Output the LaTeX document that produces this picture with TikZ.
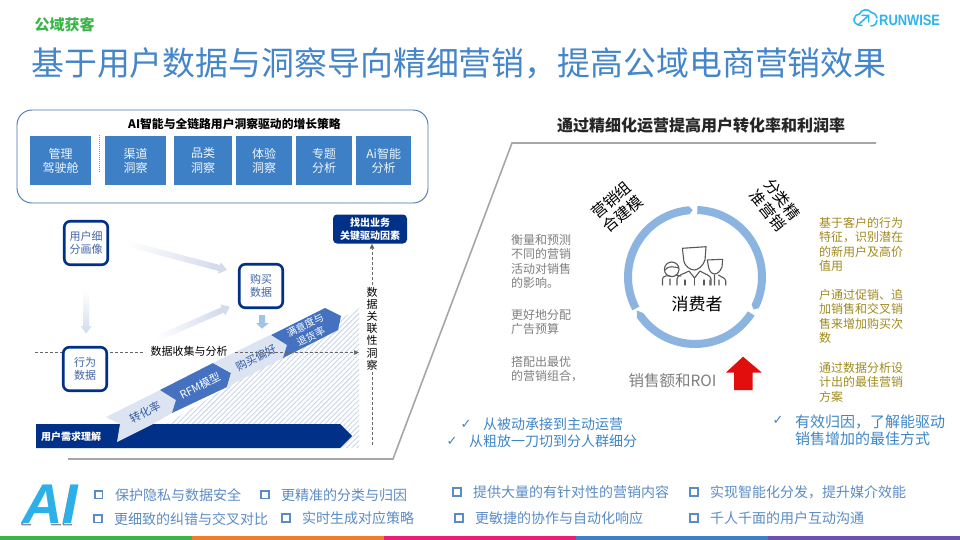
\documentclass[tikz,border=0pt]{standalone}
\usepackage{fontspec}
\setmainfont{Noto Sans CJK SC}
\newfontfamily\arialfont{Liberation Sans}
\newfontfamily\symfont{DejaVu Sans}
\usetikzlibrary{patterns.meta,arrows.meta,shadings}
\definecolor{navy}{HTML}{003087}
\definecolor{boxblue}{HTML}{3E80C6}
\definecolor{titleblue}{HTML}{4585C9}
\definecolor{ringblue}{HTML}{8CB4E0}
\definecolor{bandlight}{HTML}{DCE4F1}
\definecolor{banddark}{HTML}{4472C0}
\definecolor{greytext}{HTML}{7F7F7F}
\definecolor{goldtext}{HTML}{A08B1E}
\definecolor{listblue}{HTML}{5B8CC4}
\definecolor{checkblue}{HTML}{3F86C6}
\definecolor{fadeblue}{HTML}{D3DBEC}
\definecolor{hatchblue}{HTML}{CBD5E8}
\definecolor{logoblue}{HTML}{2DB4EA}
\definecolor{aiblue}{HTML}{2BB0EA}
\definecolor{kickgreen}{HTML}{3BB54A}
\definecolor{barorange}{HTML}{F07D2A}
\definecolor{barpink}{HTML}{E91E75}
\definecolor{barpurple}{HTML}{6E50B2}
\newcommand{\fs}[2]{\fontsize{#1}{#2}\selectfont}
\tikzset{
  x=1pt,y=-1pt,
  panelbox/.style={fill=boxblue,text=white!92!boxblue,align=center,font=\fs{12}{14.5},inner sep=0pt,anchor=north west,minimum height=49pt},
  navbox/.style={draw=navy,line width=2.6pt,fill=white,rounded corners=6pt,minimum width=43.5pt,minimum height=43.5pt,inner sep=0pt,align=center,text=navy!75!white,font=\fs{11}{13}},
  bandtext/.style={rotate=27,align=center,font=\fs{11}{13}},
  grey para/.style={anchor=north west,align=left,text=greytext,font=\fs{12}{14.4},inner sep=0pt},
  gold para/.style={anchor=north west,align=left,text=goldtext,font=\fs{12}{14.5},inner sep=0pt},
  list item/.style={anchor=west,text=listblue,font=\fs{14}{16},inner sep=0pt},
  bullet/.style={draw=listblue,line width=1.9pt,fill=white,minimum size=7.5pt,inner sep=0pt},
  check/.style={text=checkblue,font=\symfont\fs{13}{15},inner sep=0pt},
  checktext/.style={anchor=west,align=left,text=checkblue,inner sep=0pt},
  flowdash/.style={draw=black!60,dashed,dash pattern=on 3pt off 2pt,line width=.7pt},
  personline/.style={draw=black!65,line width=1.1pt,line join=round,line cap=round},
}
\begin{document}
\begin{tikzpicture}
\useasboundingbox (0,0) rectangle (960,540);
\fill[white] (0,0) rectangle (960,540);
% header
\node[anchor=center,font=\bfseries\fs{15}{18},text=kickgreen,inner sep=0pt] (kicker) at (64.5,25) {公域获客};
\node[anchor=west,text=titleblue,font=\fs{32.9}{38},inner sep=0pt] (title) at (31,63) {基于用户数据与洞察导向精细营销，提高公域电商营销效果};
% logo
\node[anchor=west,text=logoblue,inner sep=0pt,font=\arialfont\bfseries\fs{15}{16},xscale=.86] (logo) at (879,20.5) {RUNWISE};
\draw[draw=logoblue,line width=1.5pt,line cap=round]
  (862,25.5) .. controls (856,25.5) and (853.5,22) .. (854,19) .. controls (854.5,16) and (857,14) .. (859.5,14) .. controls (861,9.5) and (868,8) .. (871.5,12.5) .. controls (875,13) and (877,16) .. (877,18);
\draw[draw=logoblue,line width=1.5pt,line cap=round]
  (871,26) .. controls (875,26) and (877,23) .. (877,20.5) (859,24) -- (868,16) (862,15.5) -- (868.5,15.5) -- (868.5,22);
% top panel
\draw[draw=cyan!50!blue!80!black!90,line width=.9pt,rounded corners=15pt] (17,110) rectangle (428,203);
\node[font=\bfseries\fs{11.8}{14},inner sep=0pt] (panelhead) at (234.5,124) {AI智能与全链路用户洞察驱动的增长策略};
\node[panelbox,minimum width=61pt] (p1) at (30,136) {管理\\驾驶舱};
\node[panelbox,minimum width=61pt] (p2) at (105,136) {渠道\\洞察};
\node[panelbox,minimum width=58pt] (p3) at (174,136) {品类\\洞察};
\node[panelbox,minimum width=56pt] (p4) at (236,136) {体验\\洞察};
\node[panelbox,minimum width=56pt] (p5) at (296,136) {专题\\分析};
\node[panelbox,minimum width=55pt] (p6) at (356,136) {Ai智能\\分析};
\draw[draw=black!45,dash pattern=on 1pt off 1pt,line width=.6pt] (99.5,135) -- (99.5,173);
% grey frame
\coordinate (fa) at (68,459); \coordinate (fb) at (393,459); \coordinate (fc) at (512,143); \coordinate (fd) at (876,143);
\draw[draw=black!35,line width=1.6pt] (fa) -- (fb) -- (fc) -- (fd);
% hatch
\fill[pattern={Lines[angle=45,distance=3.6pt,line width=.9pt]},pattern color=hatchblue] (140,440) -- (359,308) -- (359,448) -- (140,448) -- cycle;
% faded arrows
\shade[left color=white,right color=fadeblue,shading angle=75]
  (116.2,243.9) -- (218.5,270.9) -- (217.8,273.8) -- (227,270) -- (220.8,262.2) -- (220.1,265.1) -- (117.8,238.1) -- cycle;
\shade[top color=white,bottom color=fadeblue]
  (83,290) -- (83,326) -- (80.7,326) -- (86,333.5) -- (91.7,326) -- (89,326) -- (89,290) -- cycle;
\shade[left color=white,right color=fadeblue,shading angle=117]
  (148.2,345.7) -- (223.9,312.6) -- (225.1,315.4) -- (230,306.7) -- (220.3,304.4) -- (221.5,307.2) -- (145.8,340.3) -- cycle;
\fill[fill=ringblue!80!white] (259,315) -- (265,315) -- (265,323) -- (269,323) -- (262,328.7) -- (256,323) -- (259,323) -- cycle;
% dashed axis, first part
\coordinate (dl1) at (35,352.5); \coordinate (dl2) at (145,352.5); \coordinate (dl3) at (235,352.5); \coordinate (dl4) at (359,352.5);
\draw[flowdash] (dl1) -- (dl2);
% nav nodes
\node[navbox] (persona) at (86,243) {用户细\\分画像};
\node[navbox] (behav) at (85,369) {行为\\数据};
\node[navbox] (buy) at (261,286) {购买\\数据};
% bottom bar
\fill[navy] (36,424) -- (340,424) -- (352,436) -- (340,448) -- (36,448) -- cycle;
\node[anchor=west,text=white,font=\bfseries\fs{10}{12},inner sep=0pt] (need) at (41,436.5) {用户需求理解};
% bands
\fill[bandlight] (106,417) -- (160,390) -- (176,400) -- (172,413) -- (153,424) -- (117,442) -- (120,424) -- cycle;
\fill[banddark] (160,390) -- (213,363) -- (231,373) -- (227,387) -- (172,413) -- (176,400) -- cycle;
\fill[bandlight] (213,363) -- (270,335) -- (287,345) -- (283,358) -- (227,387) -- (231,373) -- cycle;
\fill[banddark] (271,335) -- (325,308) -- (341,316) -- (338,330) -- (283,358) -- (287,345) -- cycle;
\node[bandtext,text=navy!80!white] (b1) at (145,412) {转化率};
\node[bandtext,text=white] (b2) at (200,386) {RFM模型};
\node[bandtext,text=navy!80!white] (b3) at (256,358) {购买偏好};
\node[bandtext,text=white,font=\fs{10}{12.5}] (b4) at (308,331) {满意度与\\退货率};
% dashed axis, rest
\node[font=\fs{11}{14},inner sep=0pt] (collect) at (189,351) {数据收集与分析};
\draw[flowdash,-{Triangle[length=5pt,width=4.5pt]}] (dl3) -- (dl4);
% key box + vertical
\node[fill=navy,rounded corners=4pt,text=white,align=center,font=\bfseries\fs{10}{13},minimum width=74pt,minimum height=29pt,inner sep=0pt] (key) at (370,229) {找出业务\\关键驱动因素};
\coordinate (vb) at (372,445);
\draw[flowdash,-{Triangle[length=5pt,width=4.5pt]}] (vb) -- (key.south -| vb);
\node[fill=white,inner ysep=1pt,inner xsep=1pt,align=center,font=\fs{11}{12.2}] (vtext) at (372,328.5) {数\\据\\关\\联\\性\\洞\\察};
% right title
\node[font=\bfseries\fs{16}{18},text=black!85,inner sep=0pt] (rtitle) at (701,125) {通过精细化运营提高用户转化率和利润率};
% ring
\begin{scope}[shift={(695,277)},x=1pt,y=1pt]
  \fill[ringblue] (88:71) arc[start angle=88,end angle=-26,radius=71pt] -- (-29:67) -- (-26:63) arc[start angle=-26,end angle=88,radius=63pt] -- cycle;
  \fill[ringblue] (-33:71) arc[start angle=-33,end angle=-145,radius=71pt] -- (-150:67) -- (-145:63) arc[start angle=-145,end angle=-33,radius=63pt] -- cycle;
  \fill[ringblue] (208:71) arc[start angle=208,end angle=95,radius=71pt] -- (92:67) -- (95:63) arc[start angle=95,end angle=208,radius=63pt] -- cycle;
\end{scope}
\node[rotate=40,align=center,font=\fs{15.5}{18},inner sep=0pt] (ringa) at (617,207) {营销组\\合建模};
\node[rotate=-52,align=center,font=\fs{15.5}{18},inner sep=0pt] (ringb) at (775,205) {分类精\\准营销};
% people
\draw[personline] (682.3,248.3) -- (706,246.7) -- (705,260) .. controls (703,266) and (698,270) .. (694.3,270) .. controls (690,270) and (685,266) .. (684,261.7) -- cycle;
\draw[personline] (677,285) -- (677,279) .. controls (677,275) and (684,274) .. (689,271) -- (694.5,278) -- (700,271) .. controls (704,274) and (711,275) .. (711,279) -- (711,285);
\draw[personline] (694.5,278) -- (694.5,285) (685,280) -- (685,285) (704,280) -- (704,285);
\draw[personline] (671.7,269.3) circle[radius=7.3];
\draw[personline] (665,270) .. controls (668,265) and (675,267) .. (678.5,268);
\draw[personline] (662.5,285) -- (662.5,279) .. controls (662.5,276) and (668,275) .. (670,276) (681,276) -- (676,275) (670,285) -- (670,279);
\draw[personline] (707.3,260) -- (722.7,259.3) -- (722,267) .. controls (720,272) and (717,274) .. (714.5,274) .. controls (712,274) and (709,271) .. (708.5,267) -- cycle;
\draw[personline] (710,285) -- (710,280) (714.5,275) -- (714.5,285) (725.7,285) -- (725.7,281) .. controls (725.7,278) and (721,277) .. (718.5,275) (719,280) -- (719,285);
\node[font=\fs{17}{20},inner sep=0pt] (consumer) at (697,304) {消费者};
\node[text=greytext,font=\fs{15.5}{18},inner sep=0pt] (roi) at (672.5,381) {销售额和ROI};
\fill[red!88!black!95!white] (743,356.7) -- (761.7,372.5) -- (752.7,372.5) -- (752.7,390) -- (734,390) -- (734,372.5) -- (726,372.5) -- cycle;
% left text
\node[grey para] (g1) at (511,234) {衡量和预测\\不同的营销\\活动对销售\\的影响。};
\node[grey para] (g2) at (511,309) {更好地分配\\广告预算};
\node[grey para] (g3) at (511,356) {搭配出最优\\的营销组合，};
% right text
\node[gold para] (y1) at (819,217) {基于客户的行为\\特征，识别潜在\\的新用户及高价\\值用};
\node[gold para] (y2) at (819,289) {户通过促销、追\\加销售和交叉销\\售来增加购买次\\数};
\node[gold para] (y3) at (819,362) {通过数据分析设\\计出的最佳营销\\方案};
% checks
\node[check] (c1) at (466,424) {✓};
\node[checktext,font=\fs{14}{16}] (c1t) at (483,424) {从被动承接到主动运营};
\node[check] (c2) at (452,441) {✓};
\node[checktext,font=\fs{14}{16}] (c2t) at (469,441.5) {从粗放一刀切到分人群细分};
\node[check] (c3) at (778,420) {✓};
\node[checktext,font=\fs{15}{17.4}] (c3t) at (795,430.5) {有效归因，了解能驱动\\销售增加的最佳方式};
% AI: grey edge behind the letters
\draw[draw=black!45,line width=1.5pt,line join=round]
  (21.5,524.5) -- (47,485) (21.5,524.5) -- (31,524.5) (51,524.5) -- (61,524.5) (63,524.5) -- (72,524.5) (63,524.5) -- (71,485);
\node[anchor=center,text=aiblue,font=\arialfont\bfseries\itshape\fs{56}{60},inner sep=0pt] (ai) at (50.5,504) {AI};
% list
\node[bullet] (l1b) at (98.7,494.7) {}; \node[list item] (l1) at (115,495) {保护隐私与数据安全};
\node[bullet] (l2b) at (265,494.7) {}; \node[list item] (l2) at (281,495) {更精准的分类与归因};
\node[bullet] (l3b) at (98,518.7) {}; \node[list item] (l3) at (114,519) {更细致的纠错与交叉对比};
\node[bullet] (l4b) at (286,518) {}; \node[list item] (l4) at (302,518.5) {实时生成对应策略};
\node[bullet] (l5b) at (457,492) {}; \node[list item] (l5) at (473,492) {提供大量的有针对性的营销内容};
\node[bullet] (l6b) at (459,518) {}; \node[list item] (l6) at (475,518.5) {更敏捷的协作与自动化响应};
\node[bullet] (l7b) at (694,492) {}; \node[list item] (l7) at (710,492) {实现智能化分发，提升媒介效能};
\node[bullet] (l8b) at (694,518) {}; \node[list item] (l8) at (710,518) {千人千面的用户互动沟通};
% footer
\fill[kickgreen] (0,536) rectangle (192,540);
\fill[barorange] (192,536) rectangle (384,540);
\fill[barpink] (384,536) rectangle (576,540);
\fill[boxblue] (576,536) rectangle (768,540);
\fill[barpurple] (768,536) rectangle (960,540);
\end{tikzpicture}
\end{document}
